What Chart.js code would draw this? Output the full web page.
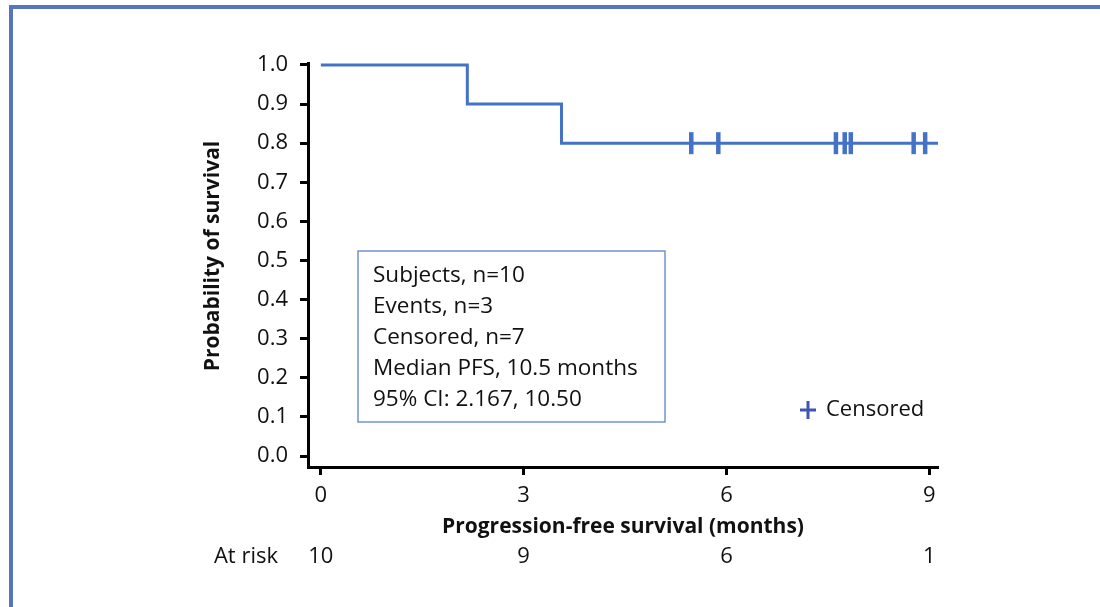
<!DOCTYPE html>
<html>
<head>
<meta charset="utf-8">
<script src="https://cdn.jsdelivr.net/npm/chart.js@4.4.1/dist/chart.umd.min.js"></script>
<style>
    html, body { margin: 0; padding: 0; background: #fff; overflow: hidden; }
    #frame { position: absolute; left: 9px; top: 5px; width: 1200px; height: 700px; border: 4px solid #5775bd; box-sizing: border-box; }
    #wrap { position: absolute; left: 0; top: 0; width: 1100px; height: 607px; }
</style>
</head>
<body>
<div id="frame"></div>
<div id="wrap"><canvas id="km-chart"></canvas></div>
<script>
// Kaplan-Meier data
const xTickValues = [0, 3, 6, 9];
const yTickValues = [0, 0.1, 0.2, 0.3, 0.4, 0.5, 0.6, 0.7, 0.8, 0.9, 1.0];
const atRiskCounts = [10, 9, 6, 1];
const kmTimes = [0, 2.167, 3.56, 9.13];
const kmSurvival = [1.0, 0.9, 0.8, 0.8];
const censorTimes = [5.48, 5.88, 7.62, 7.75, 7.84, 8.77, 8.94];
const censorSurvival = [0.8, 0.8, 0.8, 0.8, 0.8, 0.8, 0.8];
const infoLines = [
    'Subjects, n=10',
    'Events, n=3',
    'Censored, n=7',
    'Median PFS, 10.5 months',
    '95% CI: 2.167, 10.50'
];

const FONT = '"Open Sans", Lato, sans-serif';
const LINE_BLUE = '#4472c4';
const TEXT = '#111111';

// extra texts: axis titles, info box, censor legend, at-risk row
const kmExtras = {
    id: 'kmExtras',
    afterDraw(chart) {
        const ctx = chart.ctx;
        const ca = chart.chartArea;
        const xScale = chart.scales.x;
        ctx.save();
        ctx.fillStyle = TEXT;
        ctx.textBaseline = 'middle';

        // y title
        ctx.save();
        ctx.translate(ca.left - 95, (ca.top + ca.bottom) / 2 - 9);
        ctx.rotate(-Math.PI / 2);
        ctx.textAlign = 'center';
        ctx.font = 'bold 21px ' + FONT;
        ctx.fillText('Probability of survival', 0, 0);
        ctx.restore();

        // x title
        ctx.textAlign = 'center';
        ctx.font = 'bold 21px ' + FONT;
        ctx.fillText('Progression-free survival (months)', (ca.left + ca.right) / 2, ca.bottom + 60);

        // at risk row
        ctx.font = '22px ' + FONT;
        ctx.textAlign = 'right';
        ctx.fillText('At risk', ca.left - 30, ca.bottom + 90);
        ctx.textAlign = 'center';
        atRiskCounts.forEach((n, i) => {
            ctx.fillText(String(n), xScale.getPixelForValue(xTickValues[i]), ca.bottom + 90);
        });

        // info box
        const bx = ca.left + 50, by = ca.top + 188;
        ctx.strokeStyle = '#7393d2';
        ctx.lineWidth = 1.5;
        ctx.strokeRect(bx, by, 307, 171);
        ctx.textAlign = 'left';
        ctx.font = '22.5px ' + FONT;
        infoLines.forEach((t, i) => {
            ctx.fillText(t, bx + 15, by + 25 + i * 31);
        });

        // censored legend
        const px = 808, py = 410;
        ctx.strokeStyle = '#4055b0';
        ctx.lineWidth = 3;
        ctx.beginPath();
        ctx.moveTo(px - 8, py); ctx.lineTo(px + 8, py);
        ctx.moveTo(px, py - 9); ctx.lineTo(px, py + 9);
        ctx.stroke();
        ctx.font = '22px ' + FONT;
        ctx.fillText('Censored', 826, 410);

        ctx.restore();
    }
};

const ctx = document.getElementById('km-chart').getContext('2d');
new Chart(ctx, {
    type: 'scatter',
    data: {
        datasets: [
            {
                label: 'PFS',
                data: kmTimes.map((t, i) => ({ x: t, y: kmSurvival[i] })),
                showLine: true,
                stepped: true,
                borderColor: LINE_BLUE,
                borderWidth: 3,
                pointRadius: 0,
                clip: false
            },
            {
                label: 'Censored',
                data: censorTimes.map((t, i) => ({ x: t, y: censorSurvival[i] })),
                showLine: false,
                pointStyle: 'line',
                rotation: 90,
                pointRadius: 11,
                borderWidth: 4.5,
                borderColor: LINE_BLUE,
                clip: false
            }
        ]
    },
    options: {
        responsive: true,
        maintainAspectRatio: false,
        animation: false,
        layout: { padding: { top: 63, right: 162, left: 0, bottom: 0 } },
        plugins: { legend: { display: false }, tooltip: { enabled: false } },
        scales: {
            x: {
                type: 'linear',
                min: -0.19,
                max: 9.13,
                afterBuildTicks: (s) => { s.ticks = xTickValues.map(v => ({ value: v })); },
                afterFit: (s) => { s.height = 140; },
                ticks: { font: { size: 22, family: FONT }, color: TEXT, padding: 8, maxRotation: 0 },
                grid: { drawOnChartArea: false, tickLength: 8, tickWidth: 3, tickColor: '#000' },
                border: { width: 3, color: '#000' }
            },
            y: {
                type: 'linear',
                min: -0.028,
                max: 1.005,
                afterBuildTicks: (s) => { s.ticks = yTickValues.map(v => ({ value: v })); },
                afterFit: (s) => { s.width = 308; },
                ticks: { font: { size: 22, family: FONT }, color: TEXT, padding: 12, callback: (v) => v.toFixed(1) },
                grid: { drawOnChartArea: false, tickLength: 8, tickWidth: 3, tickColor: '#000' },
                border: { width: 3, color: '#000' }
            }
        }
    },
    plugins: [kmExtras]
});
</script>
</body>
</html>
